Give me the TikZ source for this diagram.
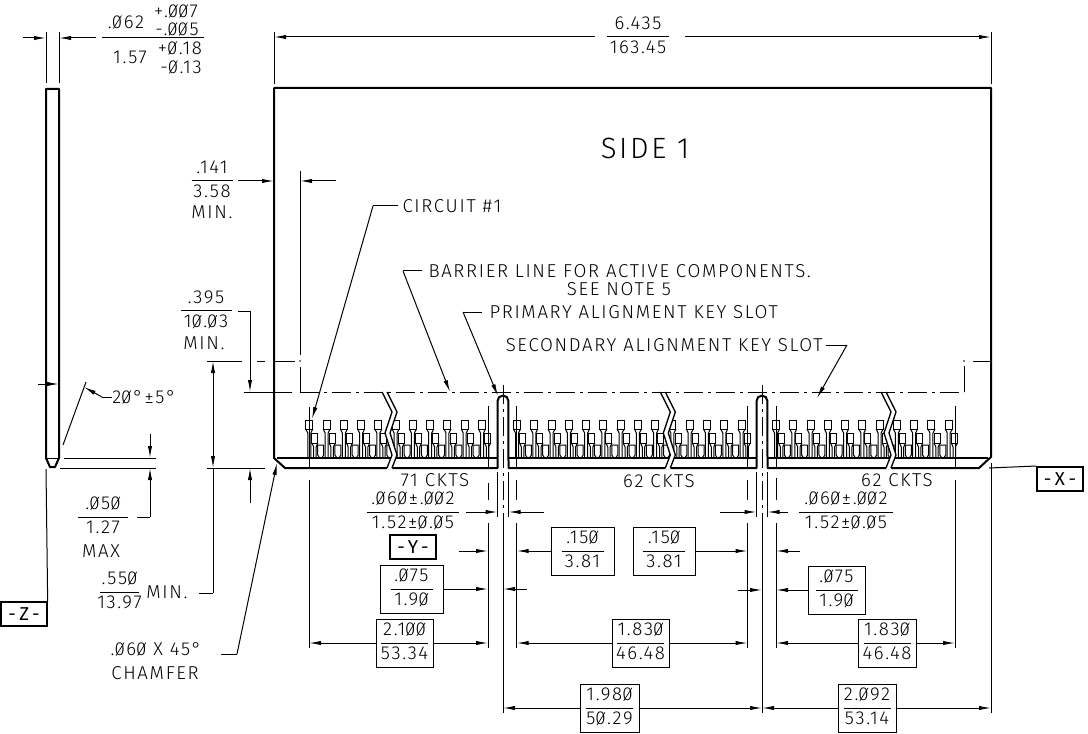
\documentclass[tikz,border=0pt]{standalone}
\usepackage{fontspec}
\setmainfont{Fira Sans}[UprightFont=* Light,LetterSpace=9]
\newfontfamily\datumfont{Fira Sans}[LetterSpace=22]
\usepackage{array}
\usepackage{graphicx}
\usetikzlibrary{arrows.meta}
\newlength{\pxu}
\setlength{\pxu}{0.75pt}
\setlength{\arrayrulewidth}{0.75pt}
\newcommand{\szero}{\rlap{\kern0.9pt\raisebox{-0.4pt}{\rotatebox{58}{\rule{11.5pt}{0.5pt}}}}0}
\newcommand{\fracdim}[3]{\renewcommand{\arraystretch}{1.1}\begin{tabular}{@{}c@{}}\makebox[#1\pxu]{#2}\\\hline\makebox[#1\pxu]{#3}\end{tabular}}

\begin{document}
\begin{tikzpicture}[x=0.75pt, y=-0.75pt, line width=0.75pt,
every node/.style={inner sep=0pt, font=\fontsize{14}{16}\selectfont},
dimline/.style={-{Latex[length=9pt,width=3.2pt]}},
outline/.style={line width=1.5pt, line join=round},
padline/.style={line width=0.75pt},
barrier/.style={line width=0.75pt, dash pattern=on 14pt off 4pt on 2pt off 4pt},
dimbox/.style={draw, minimum width=#1*0.75pt, minimum height=36pt},
datum/.style={draw, line width=1.5pt, minimum width=34pt, minimum height=18pt, font=\fontsize{14}{16}\datumfont}]
  \useasboundingbox (0,0) rectangle (1088,734);

  % card outline
  \draw[outline] (274,88) -- (274,458) -- (285,468) -- (497.5,468) -- (497.5,401)
    arc[start angle=180, end angle=0, radius=4.1pt] -- (508.5,468) -- (756.5,468) -- (756.5,401)
    arc[start angle=180, end angle=0, radius=4.1pt] -- (767.5,468) -- (979,468) -- (991,457) -- (991,88) -- cycle;
  \draw[line width=1.2pt] (277,458) -- (497.5,458);
  \draw[line width=1.2pt] (508.5,458) -- (756.5,458);
  \draw[line width=1.2pt] (767.5,458) -- (988,458);
  % side view
  \draw[outline] (46,458) -- (46,89) -- (59,89) -- (59,458) -- (55,467) -- (50,467) -- cycle;
  \draw[padline] (46,458) -- (59,458);

  % contact pads
  \foreach \startx/\num in {309.3/10, 517/13, 776/10} {
    \foreach \k in {0,...,\num} {
      \pgfmathsetmacro{\xa}{\startx+17.27*\k}
      \pgfmathsetmacro{\xb}{\xa+5.6}
      \draw[padline] (\xa-3.5,420) rectangle (\xa+3.5,429);
      \draw[padline] (\xa-3.5,429) -- (\xa-1.5,433) -- (\xa-1.5,458);
      \draw[padline] (\xa+3.5,429) -- (\xa+1.5,433) -- (\xa+1.5,458);
      \draw[padline] (\xb-3,433) rectangle (\xb+3,443);
      \draw[padline] (\xb-3,443) -- (\xb-1.2,447) -- (\xb-1.2,458);
      \draw[padline] (\xb+3,443) -- (\xb+1.2,447) -- (\xb+1.2,458);
      \ifnum\k<\num
        \pgfmathsetmacro{\xc}{\xa+11.4}
        \draw[padline] (\xc-3,445) -- (\xc+3,445) -- (\xc+3,455) -- (\xc+1,458);
        \draw[padline] (\xc-3,445) -- (\xc-3,455) -- (\xc-1,458);
      \fi
    }
  }

  % breaks
  \foreach \dx in {0, 278.3, 499} {
    \begin{scope}[xshift=\dx*0.75pt]
      \fill[white] (382,392) -- (392,412) -- (385,433) -- (392,455) -- (387,469) -- (392,469)
        -- (397,455) -- (390,433) -- (397,412) -- (387,392) -- cycle;
      \draw[line width=1pt] (382,392) -- (392,412) -- (385,433) -- (392,455) -- (387,468);
      \draw[line width=1pt] (387,392) -- (397,412) -- (390,433) -- (397,455) -- (392,468);
    \end{scope}
  }

  % free ends
  \foreach \name/\xx/\yy in {
    wa/23/38, wb/46/38, wc/96/38, wd/59/38, we/46/32, wf/46/83, wg/59/32, wh/59/83,
    ra/102/38, rb/204/38, ta/595/37, tb/274/37, tc/685/37, td/991/37,
    te/274/32, tf/274/84, tg/991/32, th/991/84,
    ca/238/181, cb/274/181, cc/336/181, cd/300/181, ce/300/171, cf/300/355, cg/300/367, ch/300/392,
    da/238/311, db/250/311, dc/250/392, dd/250/503, de/250/468,
    fa/199/593, fb/213/593, fc/213/468, fd/213/361, fe/213/415,
    ga/150/434, gb/150/458, gc/150/517, gd/150/468, ge/137/517,
    gf/64/458, gg/156/458, gh/60/468, gi/156/468,
    ha/112/397, hb/102/397, hc/84/387, hd/86/382, he/63/445,
    ia/38/384, ib/59/384,
    ja/398/206, jb/373/206, jc/312/419,
    ka/422/271, kb/403/271, kc/450/392,
    la/482/312, lb/463/312, lc/498/396,
    ma/826/345, mb/847/345, mc/817/398,
    na/221/654, nb/237/654, nc/277/463,
    pa/207/361, pb/242/361, pc/257/361, pd/265/361, pe/274/361, pf/295/361,
    pg/973/361, ph/991/361, pi/964/366, pj/964/392,
    qa/244/392, qb/292/392, qc/207/468, qd/265/468,
    xa/989/468, za/46/469,
    ua/466/512, ub/497.5/512, uc/544/512, ud/508.5/512,
    ue/720/512, uf/756.5/512, ug/788/512, uh/767.5/512,
    va/497.5/472, vb/497.5/517, vc/508.5/472, vd/508.5/517,
    ve/756.5/472, vf/756.5/517, vg/767.5/472, vh/767.5/517,
    aa/309/407, ab/309/468, ac/309/480, ad/309/648,
    ae/488/406, af/488/468, ag/488/483, ah/488/500, ai/488/523, aj/488/648,
    ak/516.7/406, al/516.7/468, am/516.7/480, an/516.7/500, ao/516.7/523, ap/516.7/648,
    aq/747.5/406, ar/747.5/468, as/747.5/480, at/747.5/500, au/747.5/523, av/747.5/648,
    aw/776/406, ax/776/468, ay/776/478, az/776/500, ba/776/523, bb/776/648,
    bc/955/406, bd/955/468, be/955/480, bf/955/648,
    bg/991/463, bh/991/713, bi/503/515, bj/503/713, bk/762/515, bl/762/713,
    bm/503/385, bn/762/385, bo/300/392, bp/964/392,
    sa/458.7/551, sb/488/551, sc/516.7/551, sd/747.5/551, se/800/551, sf/776/551,
    sg/488/589, sh/527/589, si/503/589, sj/738/590, sk/762/590, sl/776/590,
    ya/309/643, yb/488/643, yc/516.7/643, yd/747.5/643, ye/776/643, yf/955/643,
    yg/503/708, yh/762/708, yi/991/708
  } \coordinate (\name) at (\xx,\yy);

  % dimension values
  \node (t062) at (126,22) {.\szero62};
  \node (t007) at (176,11) {+.\szero\szero7};
  \node (t005) at (177,29) {-.\szero\szero5};
  \node (t157) at (130,57) {1.57};
  \node (t018) at (180,48) {+\szero.18};
  \node (t013) at (181,67) {-\szero.13};
  \node (t6435) at (638,37) {\fracdim{62}{6.435}{163.45}};
  \node[font=\fontsize{22}{26}\selectfont] (side) at (645,148) {SIDE 1};
  \node (t141) at (212,181) {\fracdim{41}{.141}{3.58}};
  \node (t141m) at (212,212) {MIN.};
  \node (t395) at (206,311) {\fracdim{51}{.395}{1\szero.\szero3}};
  \node (t395m) at (204,343) {MIN.};
  \node (t20) at (144,397) {2\szero°±5°};
  \node (t050) at (103,517) {\fracdim{50}{.\szero5\szero}{1.27}};
  \node (t050m) at (101,551) {MAX};
  \node (t550) at (119.5,592) {\fracdim{39}{.55\szero}{13.97}};
  \node (t550m) at (167,592) {MIN.};
  \node (t060) at (156,649) {.\szero6\szero{} X 45°};
  \node (tchamf) at (155,673) {CHAMFER};
  \node[anchor=west] (circuit) at (402,206) {CIRCUIT \#1};
  \node[anchor=west] (tbarrier) at (428,271) {BARRIER LINE FOR ACTIVE COMPONENTS.};
  \node (tsee) at (619,289) {SEE NOTE 5};
  \node[anchor=west] (tprim) at (489,312) {PRIMARY ALIGNMENT KEY SLOT};
  \node[anchor=east] (tsec) at (823,345) {SECONDARY ALIGNMENT KEY SLOT};
  \node (c71) at (435,480) {71 CKTS};
  \node (c62a) at (659,481) {62 CKTS};
  \node (c62b) at (897,480) {62 CKTS};
  \node (tw1) at (413,512) {\fracdim{92}{.\szero6\szero±.\szero\szero2}{1.52±\szero.\szero5}};
  \node (tw2) at (846,512) {\fracdim{94}{.\szero6\szero±.\szero\szero2}{1.52±\szero.\szero5}};

  % boxed dimensions
  \node[dimbox=63] (b150a) at (582.5,551) {\fracdim{42}{.15\szero}{3.81}};
  \node[dimbox=62] (b150b) at (664,551) {\fracdim{42}{.15\szero}{3.81}};
  \node[dimbox=63] (b075a) at (411.5,589) {\fracdim{42}{.\szero75}{1.9\szero}};
  \node[dimbox=57] (b075b) at (836.5,590) {\fracdim{42}{.\szero75}{1.9\szero}};
  \node[dimbox=57] (b2100) at (404.5,643) {\fracdim{47}{2.1\szero\szero}{53.34}};
  \node[dimbox=57] (b1830a) at (640.5,643) {\fracdim{47}{1.83\szero}{46.48}};
  \node[dimbox=58] (b1830b) at (887,643) {\fracdim{47}{1.83\szero}{46.48}};
  \node[dimbox=59] (b1980) at (609.5,708) {\fracdim{47}{1.98\szero}{5\szero.29}};
  \node[dimbox=58] (b2092) at (867,708) {\fracdim{47}{2.\szero92}{53.14}};

  % datums
  \node[datum] (dz) at (24,614) {-Z-};
  \node[datum] (dy) at (413,547) {-Y-};
  \node[datum] (dx) at (1060,479) {-X-};

  % barrier and centre lines
  \foreach \from/\to in {bo/bp,bm/bi,bn/bk}
    \draw[barrier] (\from) -- (\to);
  \draw (pi) -- (pj);
  \fill (964,361) circle (0.6pt);
  \fill (300,361) circle (0.6pt);

  % plain lines
  \foreach \from/\to in {we/wf,wg/wh,ra/rb,te/tf,tg/th,ce/cf,cg/ch,da/db,fa/fb,fb/fc,
    gf/gg,gh/gi,ge/gc,ha/hb,hd/he,ja/jb,ka/kb,la/lb,ma/mb,na/nb,
    pa/pb,pc/pd,pe/pf,pg/ph,qa/qb,qc/qd,xa/dx.north west,za/dz.north east,
    va/vb,vc/vd,ve/vf,vg/vh,aa/ab,ac/ad,ae/af,ag/ah,ai/aj,ak/al,am/an,ao/ap,
    aq/ar,as/at,au/av,aw/ax,ay/az,ba/bb,bc/bd,be/bf,bg/bh,bi/bj,bk/bl}
    \draw (\from) -- (\to);

  % arrows
  \foreach \from/\to in {wa/wb,wc/wd,ta/tb,tc/td,ca/cb,cc/cd,db/dc,dd/de,fe/fc,fe/fd,
    ga/gb,gc/gd,hb/hc,ia/ib,jb/jc,kb/kc,lb/lc,mb/mc,nb/nc,
    ua/ub,uc/ud,ue/uf,ug/uh,sa/sb,b150a/sc,b150b/sd,se/sf,
    b075a/sg,sh/si,sj/sk,b075b/sl,b2100/ya,b2100/yb,b1830a/yc,b1830a/yd,b1830b/ye,b1830b/yf,
    b1980/yg,b1980/yh,b2092/yh,b2092/yi}
    \draw[dimline] (\from) -- (\to);
\end{tikzpicture}
\end{document}
